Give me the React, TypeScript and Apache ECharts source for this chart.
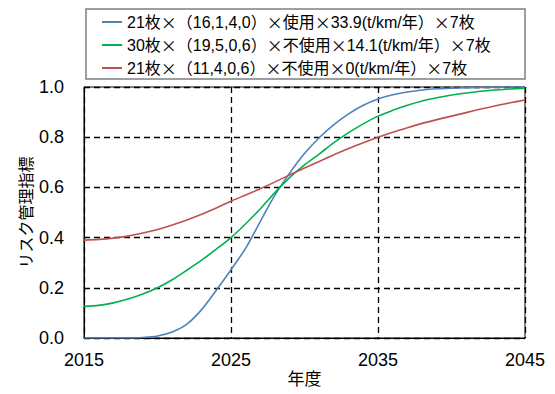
import React, { useEffect, useRef } from "react";
import * as echarts from "echarts";

// Fiscal years on the horizontal axis
const years: number[] = [
  2015, 2016, 2017, 2018, 2019, 2020, 2021, 2022, 2023, 2024, 2025,
  2026, 2027, 2028, 2029, 2030, 2031, 2032, 2033, 2034, 2035,
  2036, 2037, 2038, 2039, 2040, 2041, 2042, 2043, 2044, 2045,
];

const seriesNames: string[] = [
  "21枚×（16,1,4,0）×使用×33.9(t/km/年）×7枚",
  "30枚×（19,5,0,6）×不使用×14.1(t/km/年）×7枚",
  "21枚×（11,4,0,6）×不使用×0(t/km/年）×7枚",
];

const blueValues: number[] = [
  0.0, 0.0, 0.0, 0.0, 0.002, 0.008, 0.024, 0.055, 0.113, 0.19, 0.272,
  0.358, 0.465, 0.57, 0.658, 0.735, 0.798, 0.85, 0.893, 0.927, 0.952,
  0.969, 0.98, 0.988, 0.993, 0.995, 0.997, 0.998, 0.999, 1.0, 1.0,
];

const greenValues: number[] = [
  0.126, 0.13, 0.14, 0.155, 0.175, 0.2, 0.232, 0.27, 0.31, 0.354, 0.4,
  0.455, 0.515, 0.58, 0.64, 0.69, 0.733, 0.778, 0.818, 0.853, 0.884,
  0.907, 0.927, 0.944, 0.957, 0.968, 0.976, 0.983, 0.988, 0.992, 0.995,
];

const redValues: number[] = [
  0.39, 0.393, 0.398, 0.406, 0.418, 0.432, 0.45, 0.47, 0.493, 0.518, 0.545,
  0.57, 0.595, 0.622, 0.65, 0.677, 0.703, 0.73, 0.755, 0.778, 0.8,
  0.82, 0.838, 0.855, 0.87, 0.884, 0.898, 0.912, 0.925, 0.937, 0.948,
];

const yTicks: number[] = [0, 0.2, 0.4, 0.6, 0.8, 1.0];
const xTicks: number[] = [2015, 2025, 2035, 2045];

const colors = ["#4f81bd", "#00b050", "#c0504d"];
const FONT = '"Liberation Sans", Arial, "Noto Sans CJK JP", sans-serif';
const CJK = '"Noto Sans CJK JP", sans-serif';

export default function App() {
  const ref = useRef<HTMLDivElement>(null);

  useEffect(() => {
    if (!ref.current) return;
    const chart = echarts.init(ref.current, undefined, { renderer: "svg" });
    const valueSets = [blueValues, greenValues, redValues];

    chart.setOption({
      animation: false,
      textStyle: { fontFamily: FONT },
      grid: {
        left: 84,
        top: 87,
        width: 441,
        height: 251,
        show: true,
        borderColor: "#000",
        borderWidth: 1,
        containLabel: false,
      },
      graphic: [
        {
          type: "rect",
          shape: { x: 86, y: 9, width: 439, height: 70 },
          style: { fill: "none", stroke: "#7f7f7f", lineWidth: 1.5 },
          z: 1,
        },
      ],
      legend: {
        orient: "vertical",
        left: 102,
        top: 14,
        itemGap: 7,
        itemWidth: 20,
        itemHeight: 2,
        icon: "rect",
        padding: 0,
        formatter: (name: string) => name.replace(/×/g, "{x|×}"),
        textStyle: {
          fontFamily: FONT,
          fontSize: 16,
          color: "#000",
          rich: {
            x: { fontFamily: CJK, fontSize: 16, color: "#000" },
          },
        },
        data: seriesNames,
      },
      xAxis: {
        type: "value",
        min: xTicks[0],
        max: xTicks[xTicks.length - 1],
        interval: 10,
        name: "年度",
        nameLocation: "middle",
        nameGap: 33,
        nameMoveOverlap: false,
        nameTextStyle: { fontFamily: FONT, fontSize: 17, color: "#000" },
        axisLine: { show: true, lineStyle: { color: "#000", width: 1 } },
        axisTick: { show: false },
        axisLabel: {
          fontFamily: FONT,
          fontSize: 18,
          color: "#000",
          margin: 13,
          formatter: (v: number) => String(v),
        },
        splitLine: {
          show: true,
          lineStyle: { color: "#000", type: [6, 4], width: 1.3 },
        },
      },
      yAxis: {
        type: "value",
        min: yTicks[0],
        max: yTicks[yTicks.length - 1],
        interval: 0.2,
        name: "リスク管理指標",
        nameLocation: "middle",
        nameGap: 50,
        nameMoveOverlap: false,
        nameTextStyle: {
          fontFamily: FONT,
          fontSize: 16,
          color: "#000",
          padding: [0, 0, 0, 0],
        },
        axisLine: { show: true, lineStyle: { color: "#000", width: 1 } },
        axisTick: { show: false },
        axisLabel: {
          fontFamily: FONT,
          fontSize: 18,
          color: "#000",
          margin: 20,
          formatter: (v: number) => v.toFixed(1),
        },
        splitLine: {
          show: true,
          lineStyle: { color: "#000", type: [6, 4], width: 1.3 },
        },
      },
      series: seriesNames.map((name, i) => ({
        name,
        type: "line",
        data: years.map((y, j) => [y, valueSets[i][j]]),
        showSymbol: false,
        smooth: 0.3,
        lineStyle: { color: colors[i], width: 1.6 },
        itemStyle: { color: colors[i] },
        z: 3,
      })),
    });

    return () => chart.dispose();
  }, []);

  return (
    <div
      ref={ref}
      style={{ position: "absolute", left: 0, top: 0, width: 555, height: 394 }}
    />
  );
}
